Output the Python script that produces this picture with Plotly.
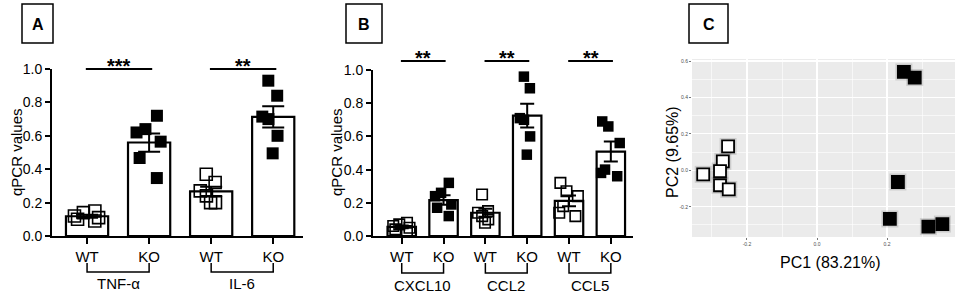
import numpy as np
import plotly.graph_objects as go

W, H = 957, 295
FONT = "Arial, Liberation Sans, sans-serif"

# ---------------- data ----------------
a_groups = ["TNF-α", "IL-6"]
a_wt = [[0.14, 0.11, 0.09, 0.15, 0.12, 0.10],
        [0.37, 0.32, 0.27, 0.24, 0.20, 0.20]]
a_ko = [[0.72, 0.64, 0.62, 0.565, 0.467, 0.347],
        [0.93, 0.84, 0.70, 0.715, 0.60, 0.495]]
a_sig = ["***", "**"]

b_groups = ["CXCL10", "CCL2", "CCL5"]
b_wt = [[0.07, 0.04, 0.06, 0.03, 0.08, 0.05],
        [0.25, 0.15, 0.14, 0.12, 0.10, 0.08],
        [0.32, 0.27, 0.24, 0.18, 0.14, 0.12]]
b_ko = [[0.32, 0.26, 0.24, 0.19, 0.17, 0.12],
        [0.96, 0.89, 0.71, 0.70, 0.60, 0.49],
        [0.69, 0.66, 0.56, 0.40, 0.38, 0.36]]
b_sig = ["**", "**", "**"]

cond_labels = ["WT", "KO"]
y_ticks = [0.0, 0.2, 0.4, 0.6, 0.8, 1.0]

pc_wt_x = [-0.325, -0.254, -0.269, -0.277, -0.277, -0.252]
pc_wt_y = [-0.022, 0.131, 0.049, -0.004, -0.082, -0.105]
pc_ko_x = [0.248, 0.279, 0.231, 0.208, 0.318, 0.358]
pc_ko_y = [0.540, 0.509, -0.064, -0.267, -0.309, -0.295]
pc_xticks = [-0.2, 0.0, 0.2]
pc_xticktext = ["-0.2", "0.0", "0.2"]
pc_yticks = [-0.2, 0.0, 0.2, 0.4, 0.6]
pc_yticktext = ["-0.2", "0.0", "0.2", "0.4", "0.6"]


def px(x):
    return x / W


def py(y):
    return 1 - y / H


fig = go.Figure()
shapes = []
annotations = []


def note(text, x, y, size, xref="paper", angle=0):
    annotations.append(dict(xref=xref, yref="paper", x=x, y=y, text=text, textangle=angle,
                            xanchor="center", yanchor="middle", showarrow=False,
                            font=dict(size=size, color="black", family=FONT)))


def bar_panel(groups, wt, ko, sig, xa, ya, msize, capw, sig_py, star_py, br_top, br_bot, lab_py):
    xref = "x" if xa == "" else "x" + xa
    yref = "y" if ya == "" else "y" + ya
    pos, means, sems = [], [], []
    wt_x, wt_y, ko_x, ko_y = [], [], [], []
    for g in range(len(groups)):
        for c, vals in enumerate([wt[g], ko[g]]):
            p = 2 * g + c
            v = np.array(vals)
            pos.append(p)
            means.append(v.mean())
            sems.append(v.std(ddof=1) / np.sqrt(len(v)))
            if c == 0:
                wt_x += [p] * len(v); wt_y += list(v)
            else:
                ko_x += [p] * len(v); ko_y += list(v)
    fig.add_trace(go.Bar(
        x=pos, y=means, width=0.68, xaxis=xref, yaxis=yref,
        marker=dict(color="white", line=dict(color="black", width=2.2)),
        error_y=dict(type="data", array=sems, visible=True, color="black", thickness=2, width=capw),
        showlegend=False, hoverinfo="skip"))
    for xs, ys, sym, lw in [(wt_x, wt_y, "square-open", 1.6), (ko_x, ko_y, "square", 0)]:
        fig.add_trace(go.Box(
            x=xs, y=ys, xaxis=xref, yaxis=yref, boxpoints="all", jitter=0.8, pointpos=0,
            width=0.6, fillcolor="rgba(0,0,0,0)", line=dict(width=0, color="rgba(0,0,0,0)"),
            marker=dict(symbol=sym, size=msize, color="black", line=dict(color="black", width=lw)),
            showlegend=False, hoverinfo="skip"))
    for g, name in enumerate(groups):
        x0, x1 = 2 * g, 2 * g + 1
        shapes.append(dict(type="path", xref=xref, yref="paper",
                           path=f"M {x0},{py(br_top)} L {x0},{py(br_bot)} L {x1},{py(br_bot)} L {x1},{py(br_top)}",
                           line=dict(color="black", width=1.5)))
        note(name, (x0 + x1) / 2, py(lab_py), 15, xref=xref)
        shapes.append(dict(type="line", xref=xref, yref="paper", x0=x0 - 0.02, x1=x1 + 0.05,
                           y0=py(sig_py), y1=py(sig_py), line=dict(color="black", width=2)))
        note(f"<b>{sig[g]}</b>", (x0 + x1) / 2 + 0.015, py(star_py), 20, xref=xref)


bar_panel(a_groups, a_wt, a_ko, a_sig, "", "", 12, 11, 69, 66, 263, 272, 283)
bar_panel(b_groups, b_wt, b_ko, b_sig, "2", "2", 10.5, 7, 61, 58, 263, 273, 285)

# PCA panel
for xs, ys, fill in [(pc_wt_x, pc_wt_y, "white"), (pc_ko_x, pc_ko_y, "black")]:
    fig.add_trace(go.Scatter(x=xs, y=ys, xaxis="x3", yaxis="y3", mode="markers",
                             marker=dict(symbol="square", size=17, color="rgba(0,0,0,0.13)", line=dict(width=0)),
                             showlegend=False, hoverinfo="skip"))
    fig.add_trace(go.Scatter(x=xs, y=ys, xaxis="x3", yaxis="y3", mode="markers",
                             marker=dict(symbol="square", size=12, color=fill, line=dict(color="black", width=1.8)),
                             showlegend=False, hoverinfo="skip"))

shapes.append(dict(type="rect", xref="x3 domain", yref="y3 domain", x0=0, x1=1, y0=0, y1=1,
                   fillcolor="#EBEBEB", line=dict(width=0), layer="below"))

# panel letter boxes
for letter, x0, x1 in [("A", 22, 53), ("B", 346, 382), ("C", 689, 728)]:
    shapes.append(dict(type="rect", xref="paper", yref="paper", x0=px(x0), x1=px(x1), y0=py(43), y1=py(4),
                       line=dict(color="black", width=1.5), fillcolor="white"))
    note(f"<b>{letter}</b>", px((x0 + x1) / 2), py(24), 16)

# axis titles
for xc in [16, 336]:
    note("qPCR values", px(xc), py(152), 15, angle=-90)
note("PC1 (83.21%)", px(830), py(262), 16)
note("PC2 (9.65%)", px(672), py(152), 16, angle=-90)

bar_x = dict(showline=True, linecolor="black", linewidth=2, ticks="outside", ticklen=6, tickwidth=2,
             tickcolor="black", showgrid=False, zeroline=False, automargin=False,
             tickfont=dict(size=15, color="black", family=FONT))
bar_y = dict(range=[0, 1.0], tickvals=y_ticks, ticktext=[f"{v:.1f}" for v in y_ticks],
             showline=True, linecolor="black", linewidth=2, ticks="outside", ticklen=5, tickwidth=2,
             tickcolor="black", showgrid=False, zeroline=False, automargin=False,
             tickfont=dict(size=14, color="black", family=FONT))
pc_ax = dict(showgrid=True, gridcolor="white", gridwidth=1.2, zeroline=False, showline=False,
             ticks="outside", ticklen=2, tickcolor="#555", tickwidth=0.8, automargin=False,
             tickfont=dict(size=5, color="#4D4D4D", family=FONT),
             minor=dict(dtick=0.1, tick0=0, showgrid=True, gridcolor="white", gridwidth=0.6))

fig.update_layout(
    template="none",
    width=W, height=H, margin=dict(l=0, r=0, t=0, b=0, autoexpand=False),
    paper_bgcolor="white", plot_bgcolor="rgba(0,0,0,0)",
    font=dict(family=FONT, color="black"),
    xaxis=dict(domain=[px(52), px(303)], range=[-0.565, 3.48], anchor="y",
               tickvals=[0, 1, 2, 3], ticktext=cond_labels * 2, **bar_x),
    yaxis=dict(domain=[py(236), py(69)], anchor="x", **bar_y),
    xaxis2=dict(domain=[px(373), px(633)], range=[-0.687, 5.53], anchor="y2",
                tickvals=[0, 1, 2, 3, 4, 5], ticktext=cond_labels * 3, **bar_x),
    yaxis2=dict(domain=[py(236), py(70)], anchor="x2", **bar_y),
    xaxis3=dict(domain=[px(692), px(955)], range=[-0.357, 0.394], anchor="y3",
                tickvals=pc_xticks, ticktext=pc_xticktext, **pc_ax),
    yaxis3=dict(domain=[py(237), py(59)], range=[-0.366, 0.611], anchor="x3",
                tickvals=pc_yticks, ticktext=pc_yticktext, **pc_ax),
    shapes=shapes, annotations=annotations,
)

fig.write_html("out.html", config={"displayModeBar": False, "staticPlot": True},
               post_script="document.body.style.margin='0';document.body.style.overflow='hidden';")
